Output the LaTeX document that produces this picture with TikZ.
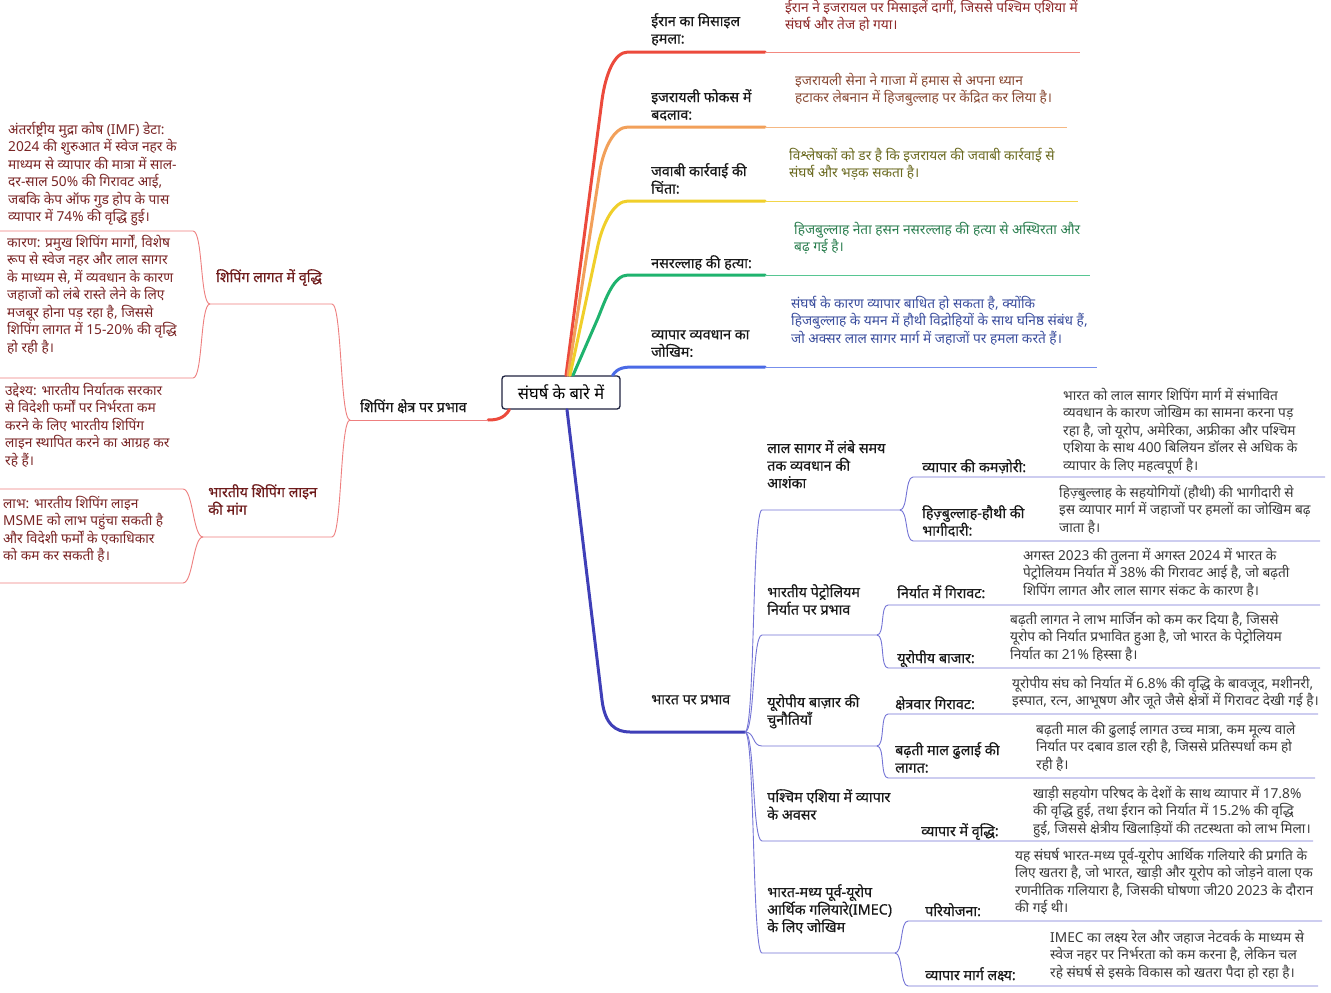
\documentclass[tikz,border=0pt]{standalone}
\usepackage{fontspec}
\setmainfont[Script=Devanagari]{Noto Sans}

\definecolor{brRed}{HTML}{EC4A3C}
\definecolor{brOrange}{HTML}{F2A05A}
\definecolor{brYellow}{HTML}{F0CF2A}
\definecolor{brGreen}{HTML}{1FB36E}
\definecolor{brBlue}{HTML}{4A6AE6}
\definecolor{brIndigo}{HTML}{3F3FB8}
\definecolor{thinRed}{HTML}{EE7F7F}
\definecolor{thinIndigo}{HTML}{7474D6}
\definecolor{txRed}{HTML}{8E2A2A}
\definecolor{txBrown}{HTML}{8A4B35}
\definecolor{txOlive}{HTML}{6B6A20}
\definecolor{txGreen}{HTML}{2C7F50}
\definecolor{txBlue}{HTML}{3B4E9E}
\definecolor{txDark}{HTML}{3A3A3A}
\definecolor{lfText}{HTML}{7A2525}
\definecolor{lfHead}{HTML}{6E1B1B}
\definecolor{rootLine}{HTML}{1F2340}

\begin{document}
\begin{tikzpicture}[
            x=1pt, y=-1pt,
            every node/.style={align=left, inner sep=0pt},
            trunk/.style={line width=3pt, line cap=round},
            twig/.style={line width=0.9pt}
        ]

        % Define styles for nodes
        \tikzset{
            topic/.style={anchor=north west, font=\fontsize{14.3}{17.5}\selectfont\bfseries\addfontfeatures{FakeBold=0.5}, text=black!90},
            leafhead/.style={topic, text=lfHead},
            detail/.style={anchor=north west, font=\fontsize{13.7}{17.5}\selectfont},
            centre/.style={rectangle, rounded corners=3pt, draw=rootLine, line width=1.3pt, fill=white, minimum width=118, minimum height=33, font=\fontsize{16.5}{18}\selectfont\bfseries, align=center}
        }

        \fill[white] (0,0) rectangle (1331,993);
        \useasboundingbox (0,0) rectangle (1331,993);

        % Line ends and junctions
        \coordinate (iranL) at (628,52);   \coordinate (iranM) at (765,52);   \coordinate (iranR) at (1080,52);
        \coordinate (focusL) at (628,127); \coordinate (focusM) at (765,127); \coordinate (focusR) at (1067,127);
        \coordinate (javabiL) at (628,201); \coordinate (javabiM) at (765,201); \coordinate (javabiR) at (1078,201);
        \coordinate (nasL) at (628,275);   \coordinate (nasM) at (765,275);   \coordinate (nasR) at (1090,275);
        \coordinate (jokhimL) at (635,367); \coordinate (jokhimM) at (765,367); \coordinate (jokhimR) at (1097,367);

        \coordinate (jShipping) at (350,420); \coordinate (shippingM) at (488,420);
        \coordinate (jLagat) at (210,304);    \coordinate (lagatR) at (332,304);
        \coordinate (imfR) at (193,231);      \coordinate (imfL) at (0,231);
        \coordinate (karanR) at (193,378);    \coordinate (karanL) at (0,378);
        \coordinate (jMang) at (203,537);     \coordinate (mangR) at (332,537);
        \coordinate (uddeshyaR) at (183,489); \coordinate (uddeshyaL) at (0,489);
        \coordinate (labhR) at (183,583);     \coordinate (labhL) at (0,583);

        \coordinate (bharatL) at (630,732);   \coordinate (jBharat) at (745,732);
        \coordinate (lalL) at (762,510);      \coordinate (jLal) at (900,510);
        \coordinate (kamzoriL) at (913,477);  \coordinate (kamzoriR) at (1325,477);
        \coordinate (bhagiL) at (913,541);    \coordinate (bhagiR) at (1320,541);
        \coordinate (petrolL) at (762,635);   \coordinate (jPetrol) at (877,635);
        \coordinate (niryatL) at (888,605);   \coordinate (niryatR) at (1320,605);
        \coordinate (eubazarL) at (888,668);  \coordinate (eubazarR) at (1320,668);
        \coordinate (chunautiL) at (762,746); \coordinate (jChunauti) at (877,746);
        \coordinate (kshetraL) at (888,714);  \coordinate (kshetraR) at (1318,714);
        \coordinate (dhulaiL) at (888,778);   \coordinate (dhulaiR) at (1315,778);
        \coordinate (pashchimL) at (762,841); \coordinate (pashchimR) at (1313,841);
        \coordinate (imecL) at (762,953);     \coordinate (jImec) at (895,953);
        \coordinate (pariL) at (908,921);     \coordinate (pariR) at (1322,921);
        \coordinate (margL) at (908,986);     \coordinate (margR) at (1318,986);

        % Root node
        \node[centre] (sangharsh) at (561,392.5) {संघर्ष के बारे में};

        % Level 1: top branches
        \draw[trunk, brRed] ([xshift=5pt]sangharsh.north) -- (602,100) .. controls +(3.5,-25) and +(-14,0) .. (iranL) -- (iranM);
        \draw[twig, brRed!65] (iranM) -- (iranR);
        \draw[trunk, brOrange] ([xshift=7pt]sangharsh.north) -- (600,170) .. controls +(4,-22) and +(-14,0) .. (focusL) -- (focusM);
        \draw[twig, brOrange!75] (focusM) -- (focusR);
        \draw[trunk, brYellow] ([xshift=9pt]sangharsh.north) -- (598,245) .. controls +(5,-22) and +(-14,0) .. (javabiL) -- (javabiM);
        \draw[twig, brYellow!85] (javabiM) -- (javabiR);
        \draw[trunk, brGreen] ([xshift=12pt]sangharsh.north) -- (598,318) .. controls +(8,-20) and +(-14,0) .. (nasL) -- (nasM);
        \draw[twig, brGreen!75] (nasM) -- (nasR);
        \draw[trunk, brBlue] ([xshift=-8pt]sangharsh.north east) .. controls +(5,-8) and +(-10,0) .. (jokhimL) -- (jokhimM);
        \draw[twig, brBlue!75] (jokhimM) -- (jokhimR);

        \node[topic] (iranHamla) at (651,13) {ईरान का मिसाइल\\हमला:};
        \node[detail, text=txRed] (iranDet) at (785,0) {ईरान ने इजरायल पर मिसाइलें दागीं, जिससे पश्चिम एशिया में\\संघर्ष और तेज हो गया।};
        \node[topic] (focusBadlav) at (651,89) {इजरायली फोकस में\\बदलाव:};
        \node[detail, text=txBrown] (focusDet) at (795,73) {इजरायली सेना ने गाजा में हमास से अपना ध्यान\\हटाकर लेबनान में हिजबुल्लाह पर केंद्रित कर लिया है।};
        \node[topic] (javabi) at (651,163) {जवाबी कार्रवाई की\\चिंता:};
        \node[detail, text=txOlive] (javabiDet) at (789,148) {विश्लेषकों को डर है कि इजरायल की जवाबी कार्रवाई से\\संघर्ष और भड़क सकता है।};
        \node[topic] (nasrallah) at (651,255) {नसरल्लाह की हत्या:};
        \node[detail, text=txGreen] (nasrallahDet) at (794,222) {हिजबुल्लाह नेता हसन नसरल्लाह की हत्या से अस्थिरता और\\बढ़ गई है।};
        \node[topic] (vyaparJokhim) at (651,330) {व्यापार व्यवधान का\\जोखिम:};
        \node[detail, text=txBlue] (vyaparJokhimDet) at (791,296) {संघर्ष के कारण व्यापार बाधित हो सकता है, क्योंकि\\हिजबुल्लाह के यमन में हौथी विद्रोहियों के साथ घनिष्ठ संबंध हैं,\\जो अक्सर लाल सागर मार्ग में जहाजों पर हमला करते हैं।};

        % Level 1: shipping branch (left)
        \draw[trunk, brRed] ([xshift=8pt]sangharsh.south west) .. controls +(-5,9) and +(8,0) .. (shippingM);
        \draw[twig, thinRed] (shippingM) -- (jShipping);
        \node[topic] (shipping) at (360,399) {शिपिंग क्षेत्र पर प्रभाव};

        % Level 2: shipping subgroups
        \draw[twig, thinRed] (jShipping) .. controls +(-10,0) and +(10,0) .. (lagatR) -- (jLagat);
        \draw[twig, thinRed] (jShipping) .. controls +(-10,0) and +(10,0) .. (mangR) -- (jMang);
        \node[leafhead] (lagat) at (216,269) {शिपिंग लागत में वृद्धि};
        \node[leafhead] (lineMang) at (208,484) {भारतीय शिपिंग लाइन\\की मांग};

        \draw[twig, thinRed] (jLagat) .. controls +(-10,0) and +(10,0) .. (imfR) -- (imfL);
        \draw[twig, thinRed] (jLagat) .. controls +(-10,0) and +(10,0) .. (karanR) -- (karanL);
        \draw[twig, thinRed] (jMang) .. controls +(-10,0) and +(10,0) .. (uddeshyaR) -- (uddeshyaL);
        \draw[twig, thinRed] (jMang) .. controls +(-10,0) and +(10,0) .. (labhR) -- (labhL);

        \node[detail, text=lfText] (imfDet) at (8,122) {अंतर्राष्ट्रीय मुद्रा कोष (IMF) डेटा:\\2024 की शुरुआत में स्वेज नहर के\\माध्यम से व्यापार की मात्रा में साल-\\दर-साल 50\% की गिरावट आई,\\जबकि केप ऑफ गुड होप के पास\\व्यापार में 74\% की वृद्धि हुई।};
        \node[detail, text=lfText] (karanDet) at (7,235) {कारण: प्रमुख शिपिंग मार्गों, विशेष\\रूप से स्वेज नहर और लाल सागर\\के माध्यम से, में व्यवधान के कारण\\जहाजों को लंबे रास्ते लेने के लिए\\मजबूर होना पड़ रहा है, जिससे\\शिपिंग लागत में 15-20\% की वृद्धि\\हो रही है।};
        \node[detail, text=lfText] (uddeshyaDet) at (5,383) {उद्देश्य: भारतीय निर्यातक सरकार\\से विदेशी फर्मों पर निर्भरता कम\\करने के लिए भारतीय शिपिंग\\लाइन स्थापित करने का आग्रह कर\\रहे हैं।};
        \node[detail, text=lfText] (labhDet) at (3,496) {लाभ: भारतीय शिपिंग लाइन\\MSME को लाभ पहुंचा सकती है\\और विदेशी फर्मों के एकाधिकार\\को कम कर सकती है।};

        % Level 1: India branch (bottom right)
        \draw[trunk, brIndigo] ([xshift=6pt]sangharsh.south) -- (602,700) .. controls +(3,25) and +(-14,0) .. (bharatL) -- (jBharat);
        \node[topic] (bharat) at (651,695) {भारत पर प्रभाव};

        % Level 2: India subgroups
        \draw[twig, thinIndigo] (jBharat) .. controls +(10,0) and +(-10,0) .. (lalL) -- (jLal);
        \draw[twig, thinIndigo] (jBharat) .. controls +(10,0) and +(-10,0) .. (petrolL) -- (jPetrol);
        \draw[twig, thinIndigo] (jBharat) .. controls +(10,0) and +(-10,0) .. (chunautiL) -- (jChunauti);
        \draw[twig, thinIndigo] (jBharat) .. controls +(10,0) and +(-10,0) .. (pashchimL) -- (pashchimR);
        \draw[twig, thinIndigo] (jBharat) .. controls +(10,0) and +(-10,0) .. (imecL) -- (jImec);

        \node[topic] (lalSagar) at (767,440) {लाल सागर में लंबे समय\\तक व्यवधान की\\आशंका};
        \node[topic] (petrol) at (767,584) {भारतीय पेट्रोलियम\\निर्यात पर प्रभाव};
        \node[topic] (euChunauti) at (767,694) {यूरोपीय बाज़ार की\\चुनौतियाँ};
        \node[topic] (pashchim) at (767,789) {पश्चिम एशिया में व्यापार\\के अवसर};
        \node[topic] (imec) at (767,884) {भारत-मध्य पूर्व-यूरोप\\आर्थिक गलियारे(IMEC)\\के लिए जोखिम};

        % Level 3: details
        \draw[twig, thinIndigo] (jLal) .. controls +(8,0) and +(-8,0) .. (kamzoriL) -- (kamzoriR);
        \draw[twig, thinIndigo] (jLal) .. controls +(8,0) and +(-8,0) .. (bhagiL) -- (bhagiR);
        \draw[twig, thinIndigo] (jPetrol) .. controls +(8,0) and +(-8,0) .. (niryatL) -- (niryatR);
        \draw[twig, thinIndigo] (jPetrol) .. controls +(8,0) and +(-8,0) .. (eubazarL) -- (eubazarR);
        \draw[twig, thinIndigo] (jChunauti) .. controls +(8,0) and +(-8,0) .. (kshetraL) -- (kshetraR);
        \draw[twig, thinIndigo] (jChunauti) .. controls +(8,0) and +(-8,0) .. (dhulaiL) -- (dhulaiR);
        \draw[twig, thinIndigo] (jImec) .. controls +(8,0) and +(-8,0) .. (pariL) -- (pariR);
        \draw[twig, thinIndigo] (jImec) .. controls +(8,0) and +(-8,0) .. (margL) -- (margR);

        \node[topic] (kamzori) at (922,459) {व्यापार की कमज़ोरी:};
        \node[detail, text=txDark] (kamzoriDet) at (1063,388) {भारत को लाल सागर शिपिंग मार्ग में संभावित\\व्यवधान के कारण जोखिम का सामना करना पड़\\रहा है, जो यूरोप, अमेरिका, अफ्रीका और पश्चिम\\एशिया के साथ 400 बिलियन डॉलर से अधिक के\\व्यापार के लिए महत्वपूर्ण है।};
        \node[topic] (bhagidari) at (922,505) {हिज़्बुल्लाह-हौथी की\\भागीदारी:};
        \node[detail, text=txDark] (bhagidariDet) at (1059,485) {हिज़्बुल्लाह के सहयोगियों (हौथी) की भागीदारी से\\इस व्यापार मार्ग में जहाजों पर हमलों का जोखिम बढ़\\जाता है।};
        \node[topic] (niryat) at (897,585) {निर्यात में गिरावट:};
        \node[detail, text=txDark] (niryatDet) at (1023,548) {अगस्त 2023 की तुलना में अगस्त 2024 में भारत के\\पेट्रोलियम निर्यात में 38\% की गिरावट आई है, जो बढ़ती\\शिपिंग लागत और लाल सागर संकट के कारण है।};
        \node[topic] (eubazar) at (897,650) {यूरोपीय बाजार:};
        \node[detail, text=txDark] (eubazarDet) at (1010,612) {बढ़ती लागत ने लाभ मार्जिन को कम कर दिया है, जिससे\\यूरोप को निर्यात प्रभावित हुआ है, जो भारत के पेट्रोलियम\\निर्यात का 21\% हिस्सा है।};
        \node[topic] (kshetra) at (895,696) {क्षेत्रवार गिरावट:};
        \node[detail, text=txDark] (kshetraDet) at (1012,676) {यूरोपीय संघ को निर्यात में 6.8\% की वृद्धि के बावजूद, मशीनरी,\\इस्पात, रत्न, आभूषण और जूते जैसे क्षेत्रों में गिरावट देखी गई है।};
        \node[topic] (dhulai) at (895,742) {बढ़ती माल ढुलाई की\\लागत:};
        \node[detail, text=txDark] (dhulaiDet) at (1036,722) {बढ़ती माल की ढुलाई लागत उच्च मात्रा, कम मूल्य वाले\\निर्यात पर दबाव डाल रही है, जिससे प्रतिस्पर्धा कम हो\\रही है।};
        \node[topic] (vriddhi) at (921,823) {व्यापार में वृद्धि:};
        \node[detail, text=txDark] (vriddhiDet) at (1033,786) {खाड़ी सहयोग परिषद के देशों के साथ व्यापार में 17.8\%\\की वृद्धि हुई, तथा ईरान को निर्यात में 15.2\% की वृद्धि\\हुई, जिससे क्षेत्रीय खिलाड़ियों की तटस्थता को लाभ मिला।};
        \node[topic] (pariyojana) at (925,903) {परियोजना:};
        \node[detail, text=txDark] (pariyojanaDet) at (1015,848) {यह संघर्ष भारत-मध्य पूर्व-यूरोप आर्थिक गलियारे की प्रगति के\\लिए खतरा है, जो भारत, खाड़ी और यूरोप को जोड़ने वाला एक\\रणनीतिक गलियारा है, जिसकी घोषणा जी20 2023 के दौरान\\की गई थी।};
        \node[topic] (margLakshya) at (925,967) {व्यापार मार्ग लक्ष्य:};
        \node[detail, text=txDark] (margLakshyaDet) at (1050,930) {IMEC का लक्ष्य रेल और जहाज नेटवर्क के माध्यम से\\स्वेज नहर पर निर्भरता को कम करना है, लेकिन चल\\रहे संघर्ष से इसके विकास को खतरा पैदा हो रहा है।};

        \end{tikzpicture}
\end{document}
